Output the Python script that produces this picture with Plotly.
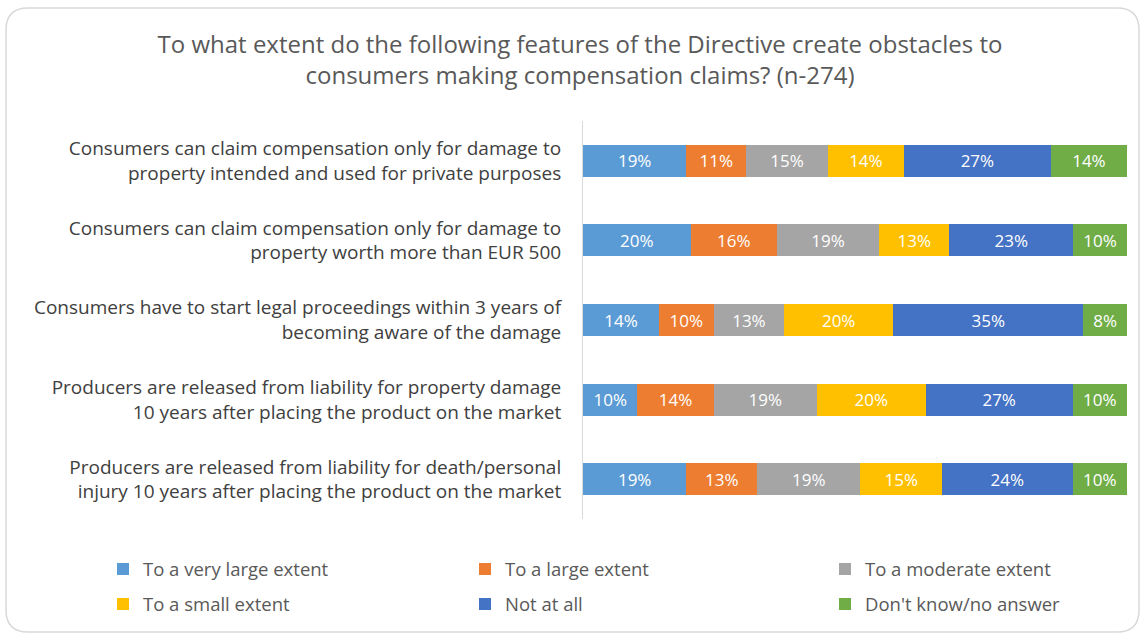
import plotly.graph_objects as go

categories = [
    "Consumers can claim compensation only for damage to<br>property intended and used for private purposes",
    "Consumers can claim compensation only for damage to<br>property worth more than EUR 500",
    "Consumers have to start legal proceedings within 3 years of<br>becoming aware of the damage",
    "Producers are released from liability for property damage<br>10 years after placing the product on the market",
    "Producers are released from liability for death/personal<br>injury 10 years after placing the product on the market",
]
series_names = [
    "To a very large extent",
    "To a large extent",
    "To a moderate extent",
    "To a small extent",
    "Not at all",
    "Don't know/no answer",
]
very_large = [19, 20, 14, 10, 19]
large = [11, 16, 10, 14, 13]
moderate = [15, 19, 13, 19, 19]
small = [14, 13, 20, 20, 15]
not_at_all = [27, 23, 35, 27, 24]
dont_know = [14, 10, 8, 10, 10]
series_values = [very_large, large, moderate, small, not_at_all, dont_know]
colors = ["#5B9BD5", "#ED7D31", "#A5A5A5", "#FFC000", "#4472C4", "#70AD47"]

FONT = "Open Sans, Noto Sans, sans-serif"

W, H = 1144, 635
l, r, t, b = 583, 17, 121, 116
pw, ph = W - l - r, H - t - b

def px(xp):
    return (xp - l) / pw

def py(yp):
    return (H - b - yp) / ph

legend_ids = ["legend", "legend2", "legend3", "legend", "legend2", "legend3"]

fig = go.Figure()
for name, vals, col, lg in zip(series_names, series_values, colors, legend_ids):
    fig.add_trace(go.Bar(
        y=categories, x=vals, name=name, orientation="h",
        marker=dict(color=col, line=dict(width=0)),
        text=[f"{v}%" for v in vals], textposition="inside",
        insidetextanchor="middle", textangle=0,
        textfont=dict(color="white", size=17, family=FONT),
        legend=lg, legendgroup=name,
    ))

leg_common = dict(
    orientation="v", xref="paper", yref="paper",
    xanchor="left", yanchor="middle",
    traceorder="grouped", tracegroupgap=8,
    font=dict(size=18.5, color="#595959", family=FONT),
    itemwidth=30, bgcolor="rgba(0,0,0,0)",
)

fig.update_layout(
    barmode="stack", barnorm="percent",
    width=W, height=H,
    margin=dict(l=l, r=r, t=t, b=b),
    paper_bgcolor="white", plot_bgcolor="white",
    font=dict(family=FONT, color="#404040", size=16),
    title=dict(
        text="To what extent do the following features of the Directive create obstacles to<br>consumers making compensation claims? (n-274)",
        x=0.507, xanchor="center", y=1 - 53 / H, yanchor="middle",
        font=dict(size=24, color="#595959", family=FONT),
    ),
    bargap=0.6,
    showlegend=True,
    legend=dict(x=px(103), y=py(587), **leg_common),
    legend2=dict(x=px(465), y=py(587), **leg_common),
    legend3=dict(x=px(825), y=py(587), **leg_common),
)

x0, x1, y0, y1, rad = 6, 1139, 8, 632, 22
path = (
    f"M {px(x0+rad)},{py(y0)} L {px(x1-rad)},{py(y0)} "
    f"Q {px(x1)},{py(y0)} {px(x1)},{py(y0+rad)} "
    f"L {px(x1)},{py(y1-rad)} Q {px(x1)},{py(y1)} {px(x1-rad)},{py(y1)} "
    f"L {px(x0+rad)},{py(y1)} Q {px(x0)},{py(y1)} {px(x0)},{py(y1-rad)} "
    f"L {px(x0)},{py(y0+rad)} Q {px(x0)},{py(y0)} {px(x0+rad)},{py(y0)} Z"
)
fig.add_shape(type="path", xref="paper", yref="paper", path=path,
              line=dict(color="#D9D9D9", width=1.5), layer="below")

fig.update_xaxes(visible=False, range=[0, 100], fixedrange=True)
fig.update_yaxes(
    autorange="reversed", showline=True, linecolor="#D9D9D9", linewidth=1,
    showgrid=False, ticks="", ticklabelstandoff=17,
    tickfont=dict(size=19, color="#404040", family=FONT),
)

fig.write_html(
    "out.html",
    config={"displayModeBar": False},
    post_script="document.body.style.margin='0';document.body.style.overflow='hidden';",
)
